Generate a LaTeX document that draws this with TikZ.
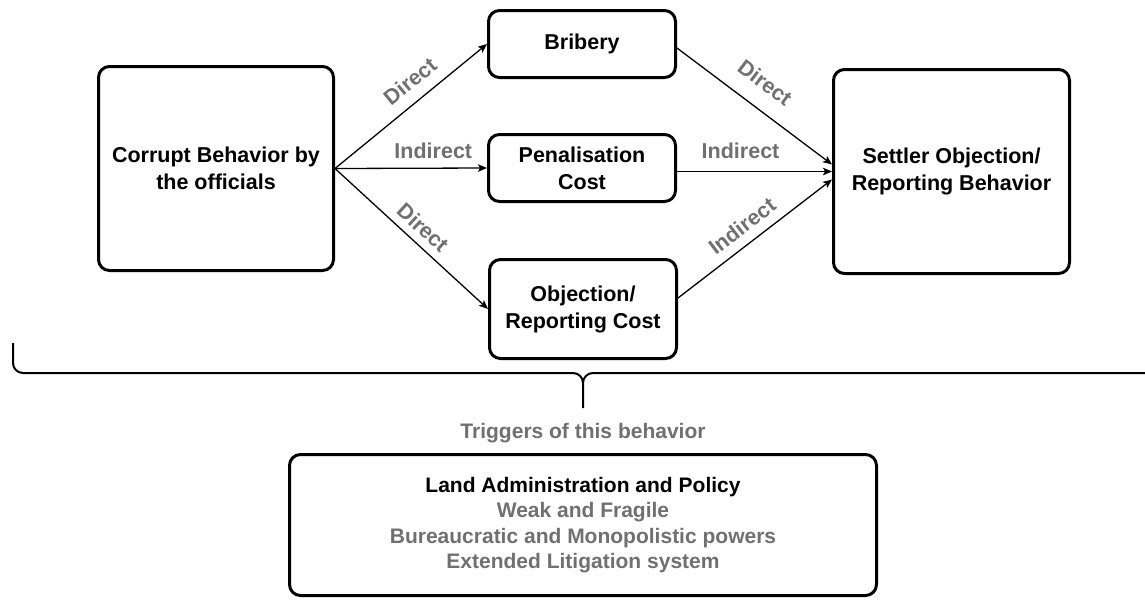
\documentclass[tikz,border=0pt]{standalone}
\usepackage{fontspec}
\setmainfont{Liberation Sans}
\usetikzlibrary{arrows.meta}
\definecolor{lblgray}{gray}{0.44}
\begin{document}
\begin{tikzpicture}[x=1pt,y=-1pt,
  box/.style={draw, line width=3pt, rounded corners=11pt, align=center,
    font=\bfseries\fontsize{21.5}{27}\selectfont, inner sep=0pt},
  link/.style={line width=1.3pt, -{Stealth[length=9pt,width=7.5pt,inset=2pt]}},
  lbl/.style={text=lblgray, font=\bfseries\fontsize{21.5}{27}\selectfont,
    inner sep=2pt, sloped},
]
\useasboundingbox (0,0) rectangle (1145,600);

% main boxes
\node[box, minimum width=235pt, minimum height=204pt] (corrupt) at (216,168.5)
  {Corrupt Behavior by\\the officials};
\node[box, minimum width=187pt, minimum height=67pt] (bribery) at (582,44) {Bribery};
\node[box, minimum width=187pt, minimum height=67pt] (penal) at (582,168)
  {Penalisation\\Cost};
\node[box, minimum width=187pt, minimum height=99pt] (objcost) at (583,309)
  {Objection/\\Reporting Cost};
\node[box, minimum width=236pt, minimum height=204pt] (settler) at (951.5,171.5)
  {Settler Objection/\\Reporting Behavior};

% links from the officials' behaviour
\draw[link] (corrupt.east) -- node[lbl, pos=0.576, above=9.5pt] {Direct} (bribery.west);
\draw[link] (corrupt.east) -- node[lbl, pos=0.647, above=6.5pt] {Indirect} (penal.west);
\draw[link] (corrupt.east) -- node[lbl, pos=0.504, above=5.5pt] {Direct} (objcost.west);

% links into the settler behaviour
\draw[link] ([yshift=-4pt]bribery.east) -- node[lbl, pos=0.47, above=15pt] {Direct}
  ([yshift=7pt]settler.west);
\draw[link] ([yshift=-3.5pt]penal.east) -- node[lbl, pos=0.41, above=10.5pt] {Indirect}
  (settler.west);
\draw[link] ([yshift=11pt]objcost.east) -- node[lbl, pos=0.487, above=7.5pt] {Indirect}
  ([yshift=-8pt]settler.west);

% brace under the chain
\coordinate (bl) at (13,343);
\coordinate (tip) at (583,408);
\draw[line width=2pt] (bl) -- (13,363) to[out=-90,in=180] (23,373) -- (573,373)
  to[out=0,in=90] (583,383) -- (tip);
\draw[line width=2pt] (583,383) to[out=90,in=180] (593,373) -- (1150,373);

\node[text=lblgray, font=\bfseries\fontsize{21}{25}\selectfont] (trig) at (583,433)
  {Triggers of this behavior};

% triggers box
\node[box, minimum width=587pt, minimum height=141pt,
  font=\bfseries\fontsize{21}{25.5}\selectfont] (land) at (583,525)
  {Land Administration and Policy\\
   \textcolor{lblgray}{Weak and Fragile}\\
   \textcolor{lblgray}{Bureaucratic and Monopolistic powers}\\
   \textcolor{lblgray}{Extended Litigation system}};
\end{tikzpicture}
\end{document}
